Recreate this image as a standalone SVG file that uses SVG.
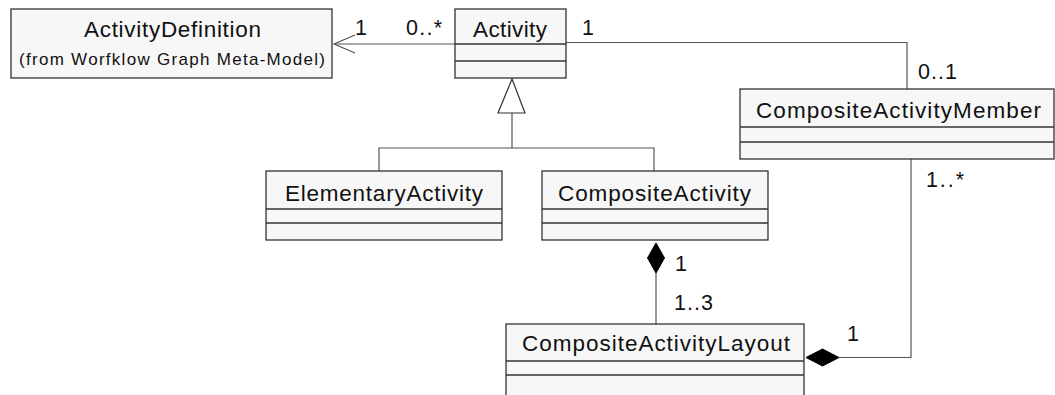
<svg xmlns="http://www.w3.org/2000/svg" width="1055" height="395" viewBox="0 0 1055 395">
  <defs>
    <style>
      .box { fill: #f7f7f7; stroke: #333; stroke-width: 1.3; }
      .div { stroke: #333; stroke-width: 1.3; }
      .name { font-family: "Liberation Sans", Arial, sans-serif; font-size: 22.5px; fill: #111; }
      .small { font-family: "Liberation Sans", Arial, sans-serif; font-size: 17px; fill: #111; }
      .mult { font-family: "Liberation Sans", Arial, sans-serif; font-size: 21.5px; fill: #111; }
      .edge { fill: none; stroke: #555; stroke-width: 1.2; }
      .diamond { fill: #000; stroke: #000; stroke-width: 1; }
      .tri { fill: #fff; stroke: #333; stroke-width: 1.2; }
    </style>
  </defs>
  <rect width="1055" height="395" fill="#fff"/>

  <g id="connectors">
    <!-- Activity to ActivityDefinition, navigable association -->
    <line class="edge" x1="334" y1="44" x2="455" y2="44"/>
    <polyline class="edge" points="355,35 334,44 355,53"/>
    <!-- Activity to CompositeActivityMember -->
    <polyline class="edge" points="566,42.5 907,42.5 907,89"/>
    <!-- generalization tree -->
    <polygon class="tri" points="512,79 498,113 525,113"/>
    <polyline class="edge" points="512,113 512,148"/>
    <polyline class="edge" points="379,171 379,148 654,148 654,171"/>
    <!-- CompositeActivity composes CompositeActivityLayout -->
    <line class="edge" x1="656" y1="273" x2="656" y2="324"/>
    <polygon class="diamond" points="656,243 664.5,258 656,273 647.5,258"/>
    <!-- CompositeActivityLayout composes CompositeActivityMember -->
    <polyline class="edge" points="839,357.5 911,357.5 911,159"/>
    <polygon class="diamond" points="806,357.5 822.5,349 839,357.5 822.5,366"/>
  </g>

  <g id="labels">
    <text class="mult" x="355" y="35">1</text>
    <text class="mult" x="406" y="35" textLength="36">0..*</text>
    <text class="mult" x="582" y="35">1</text>
    <text class="mult" x="918" y="79" textLength="39">0..1</text>
    <text class="mult" x="926" y="187" textLength="38">1..*</text>
    <text class="mult" x="675" y="271">1</text>
    <text class="mult" x="674" y="310" textLength="39">1..3</text>
    <text class="mult" x="847" y="341">1</text>
  </g>

  <g id="ActivityDefinition">
    <rect class="box" x="11" y="9" width="321" height="69"/>
    <text class="name" x="84" y="37" textLength="177">ActivityDefinition</text>
    <text class="small" x="19" y="65" textLength="306">(from Worfklow Graph Meta-Model)</text>
  </g>

  <g id="Activity">
    <rect class="box" x="455" y="9" width="111" height="69"/>
    <line class="div" x1="455" y1="44" x2="566" y2="44"/>
    <line class="div" x1="455" y1="61" x2="566" y2="61"/>
    <text class="name" x="473" y="37" textLength="74">Activity</text>
  </g>

  <g id="CompositeActivityMember">
    <rect class="box" x="740" y="89" width="314" height="70"/>
    <line class="div" x1="740" y1="127" x2="1054" y2="127"/>
    <line class="div" x1="740" y1="142" x2="1054" y2="142"/>
    <text class="name" x="756" y="118" textLength="285">CompositeActivityMember</text>
  </g>

  <g id="ElementaryActivity">
    <rect class="box" x="266" y="171" width="236" height="69"/>
    <line class="div" x1="266" y1="209" x2="502" y2="209"/>
    <line class="div" x1="266" y1="223" x2="502" y2="223"/>
    <text class="name" x="285" y="201" textLength="198">ElementaryActivity</text>
  </g>

  <g id="CompositeActivity">
    <rect class="box" x="542" y="171" width="226" height="69"/>
    <line class="div" x1="542" y1="209" x2="768" y2="209"/>
    <line class="div" x1="542" y1="223" x2="768" y2="223"/>
    <text class="name" x="558" y="201" textLength="193">CompositeActivity</text>
  </g>

  <g id="CompositeActivityLayout">
    <rect class="box" x="506" y="324" width="298" height="90"/>
    <line class="div" x1="506" y1="361" x2="804" y2="361"/>
    <line class="div" x1="506" y1="375" x2="804" y2="375"/>
    <text class="name" x="522" y="351" textLength="268">CompositeActivityLayout</text>
  </g>
</svg>
